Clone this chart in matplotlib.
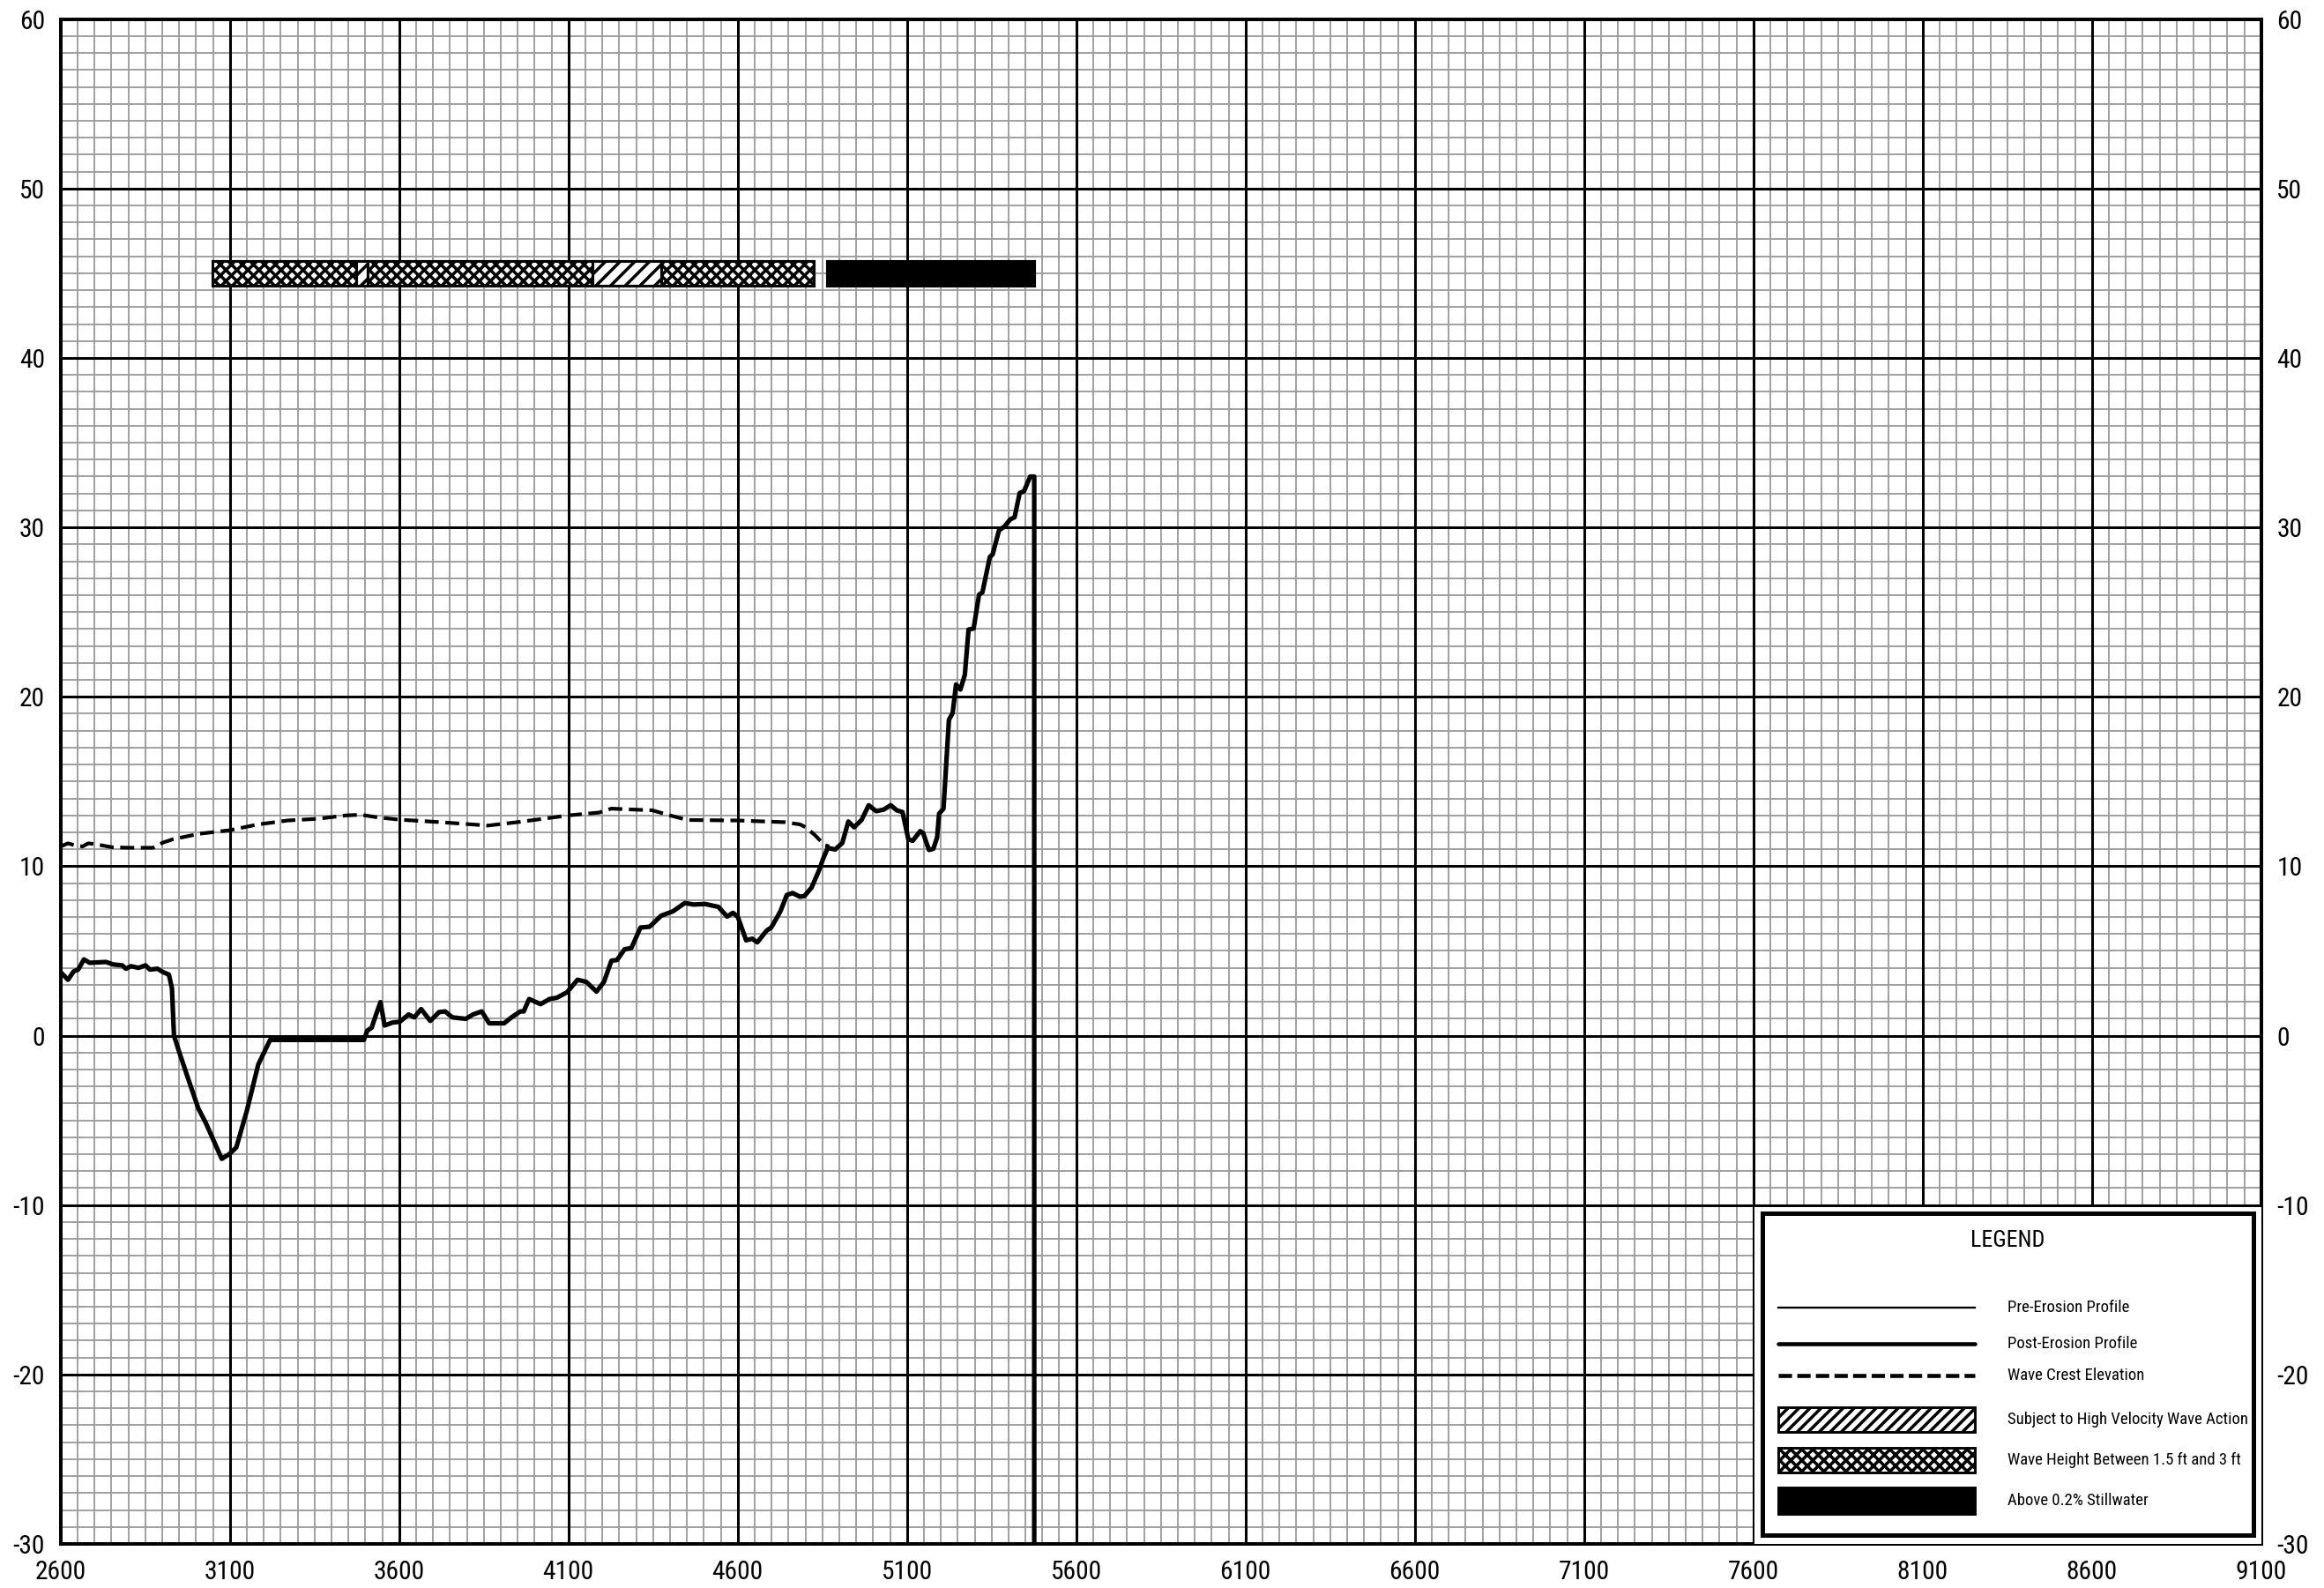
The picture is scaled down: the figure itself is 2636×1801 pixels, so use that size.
import matplotlib
matplotlib.use('Agg')
import matplotlib.pyplot as plt
from matplotlib import font_manager
from matplotlib.patches import Rectangle
from matplotlib.ticker import MultipleLocator

# pick a narrow sans if one is installed
narrow = 'Liberation Sans'
for cand in ['Liberation Sans Narrow', 'Arial Narrow', 'DejaVu Sans Condensed',
             'Roboto Condensed', 'Open Sans Condensed', 'Noto Sans Condensed']:
    try:
        font_manager.findfont(font_manager.FontProperties(family=cand),
                              fallback_to_default=False)
        narrow = cand
        break
    except ValueError:
        pass

plt.rcParams['font.family'] = [narrow, 'Liberation Sans', 'DejaVu Sans']
plt.rcParams['axes.unicode_minus'] = False
plt.rcParams['hatch.linewidth'] = 1.7

# post-erosion ground profile (station ft, elevation ft)
station = [2600, 2622, 2639, 2652, 2669, 2686, 2734, 2756, 2782, 2793, 2808, 2830,
           2851, 2864, 2886, 2903, 2920, 2929, 2935, 2951, 2977, 3007, 3029, 3076,
           3098, 3119, 3150, 3184, 3219, 3496, 3506, 3519, 3532, 3545, 3557, 3580,
           3602, 3628, 3645, 3665, 3692, 3718, 3736, 3757, 3797, 3818, 3844, 3866,
           3910, 3932, 3958, 3968, 3984, 4018, 4044, 4066, 4096, 4127, 4153, 4183,
           4205, 4227, 4244, 4266, 4286, 4313, 4340, 4374, 4409, 4444, 4469, 4504,
           4543, 4569, 4586, 4600, 4625, 4643, 4658, 4686, 4699, 4714, 4727, 4745,
           4762, 4784, 4797, 4818, 4840, 4853, 4866, 4888, 4909, 4927, 4944, 4966,
           4987, 5009, 5031, 5052, 5070, 5087, 5104, 5117, 5139, 5148, 5165, 5178,
           5189, 5195, 5208, 5224, 5235, 5245, 5258, 5271, 5282, 5297, 5313, 5323,
           5345, 5353, 5372, 5388, 5405, 5418, 5433, 5446, 5464, 5476, 5476]
elevation = [3.75, 3.3, 3.8, 3.9, 4.5, 4.3, 4.35, 4.2, 4.15, 3.95, 4.1, 4.0,
             4.15, 3.9, 3.95, 3.75, 3.6, 2.8, 0.0, -1.0, -2.55, -4.3, -5.15, -7.27,
             -7.0, -6.6, -4.45, -1.7, -0.25, -0.25, 0.3, 0.47, 1.25, 1.98, 0.6, 0.77,
             0.82, 1.25, 1.08, 1.57, 0.87, 1.39, 1.43, 1.08, 0.99, 1.25, 1.43, 0.73,
             0.73, 1.08, 1.43, 1.43, 2.16, 1.86, 2.16, 2.24, 2.56, 3.3, 3.17, 2.6,
             3.17, 4.42, 4.47, 5.1, 5.17, 6.38, 6.43, 7.08, 7.34, 7.83, 7.74, 7.77,
             7.6, 7.03, 7.25, 7.03, 5.63, 5.72, 5.51, 6.21, 6.38, 6.9, 7.37, 8.3,
             8.42, 8.2, 8.24, 8.73, 9.74, 10.47, 11.08, 10.99, 11.37, 12.64, 12.3, 12.73,
             13.6, 13.25, 13.34, 13.6, 13.3, 13.2, 11.6, 11.5, 12.07, 11.95, 10.96, 11.03,
             11.69, 13.1, 13.4, 18.64, 19.04, 20.73, 20.43, 21.3, 23.97, 24.03, 26.03, 26.17,
             28.26, 28.4, 29.83, 30.05, 30.47, 30.6, 32.03, 32.14, 33.0, 33.0, -30.0]

# wave crest elevation
crest_station = [2600, 2622, 2643, 2665, 2682, 2704, 2752, 2803, 2873, 2903, 2933,
                 3011, 3098, 3184, 3271, 3358, 3444, 3487, 3531, 3600, 3723, 3862,
                 3949, 4100, 4191, 4227, 4348, 4400, 4452, 4600, 4739, 4784, 4801,
                 4827, 4857, 4870]
crest_elev = [11.17, 11.35, 11.23, 11.17, 11.35, 11.3, 11.12, 11.09, 11.09, 11.4, 11.6,
              11.92, 12.12, 12.47, 12.7, 12.8, 13.0, 13.04, 12.9, 12.75, 12.6, 12.4,
              12.6, 13.0, 13.17, 13.4, 13.3, 13.0, 12.73, 12.7, 12.6, 12.47, 12.3,
              11.86, 11.25, 11.17]

# hazard zones along the transect
zone_start = [3048, 3474, 3506, 4170, 4373, 4863]
zone_end = [3474, 3506, 4170, 4373, 4824, 5476]
zone_kind = ['wave', 've', 'wave', 've', 'wave', 'still']
zone_elev = 45

xticks = list(range(2600, 9101, 500))
yticks = list(range(-30, 61, 10))

legend_labels = ['Pre-Erosion Profile', 'Post-Erosion Profile', 'Wave Crest Elevation',
                 'Subject to High Velocity Wave Action',
                 'Wave Height Between 1.5 ft and 3 ft', 'Above 0.2% Stillwater']

W, H, DPI = 2636, 1801, 150
fig = plt.figure(figsize=(W / DPI, H / DPI), dpi=DPI)
ax = fig.add_axes([68.7 / W, 1 - 1751 / H, 2496 / W, 1729.3 / H])

ax.set_xlim(2600, 9100)
ax.set_ylim(-30, 60)
ax.set_xticks(xticks)
ax.set_yticks(yticks)
ax.xaxis.set_minor_locator(MultipleLocator(50))
ax.yaxis.set_minor_locator(MultipleLocator(1))
ax.set_axisbelow(True)
ax.grid(which='minor', color='#9c9c9c', lw=0.9)
for v in xticks[1:-1]:
    ax.axvline(v, color='black', lw=1.45, zorder=0.8)
for v in yticks[1:-1]:
    ax.axhline(v, color='black', lw=1.45, zorder=0.8)

ax.tick_params(axis='both', which='both', length=0, labelsize=14.2, pad=8.5)
ax.tick_params(axis='y', labelright=True)
for s in ax.spines.values():
    s.set_linewidth(1.9)

# profiles
ax.plot(station, elevation, color='black', lw=0.9, zorder=2)
ax.plot(station, elevation, color='black', lw=2.5, solid_joinstyle='round', zorder=3)
ax.plot(crest_station, crest_elev, color='black', lw=2.0, dashes=(3.8, 1.8), zorder=3)

# zone bar
hatches = {'wave': 'xxxx', 've': '///', 'still': None}
for s, e, k in zip(zone_start, zone_end, zone_kind):
    ax.barh(zone_elev, e - s, left=s, height=1.5,
            color='black' if k == 'still' else 'white',
            edgecolor='black', hatch=hatches[k], lw=1.5, zorder=4)

# legend box
lw_, lh_ = 574.7, 382.3
lax = ax.inset_axes([7604, -30, 1496, 19.9], transform=ax.transData, zorder=5)
lax.set_xlim(0, lw_)
lax.set_ylim(lh_, 0)
lax.set_facecolor('white')
lax.set_xticks([])
lax.set_yticks([])
for s in lax.spines.values():
    s.set_visible(False)
lax.add_patch(Rectangle((8.5, 7.5), 557.5, 364.5, fill=False, lw=2.4, edgecolor='black'))
lax.text(286.6, 38.3, 'LEGEND', ha='center', va='center', fontsize=12.5)

rows = [114.8, 155.0, 191.2, 241.0, 287.0, 333.0]
hx0, hx1, tx = 26.4, 249.5, 286.6
lax.plot([hx0, hx1], [rows[0]] * 2, color='black', lw=1.1)
lax.plot([hx0, hx1], [rows[1]] * 2, color='black', lw=2.2, solid_capstyle='round')
lax.plot([hx0, hx1], [rows[2]] * 2, color='black', lw=2.2, dashes=(3.3, 1.3))
lax.add_patch(Rectangle((hx0, rows[3] - 14), hx1 - hx0, 28, facecolor='white',
                        edgecolor='black', hatch='////', lw=1.4))
lax.add_patch(Rectangle((hx0, rows[4] - 14), hx1 - hx0, 28, facecolor='white',
                        edgecolor='black', hatch='xxxx', lw=1.4))
lax.add_patch(Rectangle((hx0, rows[5] - 15), hx1 - hx0, 30, facecolor='black',
                        edgecolor='black', lw=1.4))
texts = [lax.text(tx, y, lab, ha='left', va='center', fontsize=10.7)
         for y, lab in zip(rows, legend_labels)]

# shrink legend text if the installed font is wider than the original narrow face
fig.canvas.draw()
r = fig.canvas.get_renderer()
widest = max(t.get_window_extent(r).width for t in texts)
if widest > 272:
    for t in texts:
        t.set_fontsize(10.7 * 272 / widest)

fig.savefig('out.png', dpi=DPI)
